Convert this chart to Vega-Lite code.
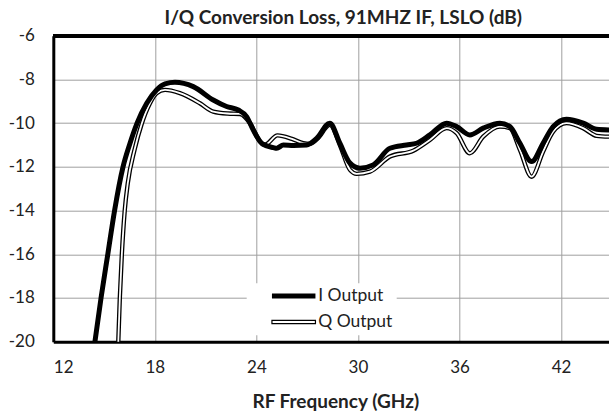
{
  "$schema": "https://vega.github.io/schema/vega-lite/v6.json",
  "width": 556,
  "height": 306,
  "autosize": {"type": "none"},
  "padding": {"left": 53.3, "top": 35.7, "right": 0, "bottom": 72.3},
  "background": "white",
  "config": {
    "view": {"stroke": null},
    "font": "Lato",
    "axis": {"labelFont": "Lato", "titleFont": "Lato", "labelColor": "#222222", "titleColor": "#222222"}
  },
  "title": {
    "text": "I/Q Conversion Loss, 91MHZ IF, LSLO (dB)",
    "font": "Lato", "fontSize": 19, "fontWeight": "bold", "color": "#222222",
    "anchor": "middle", "frame": "group", "dx": 12, "offset": -1
  },
  "data": {
    "values": [
      {"series": "I Output", "freq": 14.46, "loss": -20.0},
      {"series": "I Output", "freq": 14.82, "loss": -18.0},
      {"series": "I Output", "freq": 15.22, "loss": -16.0},
      {"series": "I Output", "freq": 15.62, "loss": -14.0},
      {"series": "I Output", "freq": 16.12, "loss": -12.0},
      {"series": "I Output", "freq": 16.5, "loss": -11.0},
      {"series": "I Output", "freq": 16.95, "loss": -10.0},
      {"series": "I Output", "freq": 17.52, "loss": -9.09},
      {"series": "I Output", "freq": 18.1, "loss": -8.48},
      {"series": "I Output", "freq": 18.6, "loss": -8.2},
      {"series": "I Output", "freq": 19.19, "loss": -8.13},
      {"series": "I Output", "freq": 20.27, "loss": -8.33},
      {"series": "I Output", "freq": 21.45, "loss": -8.94},
      {"series": "I Output", "freq": 22.24, "loss": -9.24},
      {"series": "I Output", "freq": 22.93, "loss": -9.4},
      {"series": "I Output", "freq": 23.42, "loss": -9.7},
      {"series": "I Output", "freq": 23.81, "loss": -10.31},
      {"series": "I Output", "freq": 24.35, "loss": -10.95},
      {"series": "I Output", "freq": 25.0, "loss": -11.12},
      {"series": "I Output", "freq": 25.2, "loss": -11.15},
      {"series": "I Output", "freq": 25.59, "loss": -11.0},
      {"series": "I Output", "freq": 26.2, "loss": -11.02},
      {"series": "I Output", "freq": 26.97, "loss": -11.0},
      {"series": "I Output", "freq": 27.56, "loss": -10.7},
      {"series": "I Output", "freq": 28.34, "loss": -10.0},
      {"series": "I Output", "freq": 28.93, "loss": -10.92},
      {"series": "I Output", "freq": 29.53, "loss": -11.83},
      {"series": "I Output", "freq": 30.12, "loss": -12.06},
      {"series": "I Output", "freq": 30.9, "loss": -11.91},
      {"series": "I Output", "freq": 31.89, "loss": -11.15},
      {"series": "I Output", "freq": 32.87, "loss": -11.0},
      {"series": "I Output", "freq": 33.46, "loss": -10.92},
      {"series": "I Output", "freq": 34.25, "loss": -10.54},
      {"series": "I Output", "freq": 35.24, "loss": -10.0},
      {"series": "I Output", "freq": 35.83, "loss": -10.16},
      {"series": "I Output", "freq": 36.61, "loss": -10.54},
      {"series": "I Output", "freq": 37.4, "loss": -10.23},
      {"series": "I Output", "freq": 38.39, "loss": -10.0},
      {"series": "I Output", "freq": 38.98, "loss": -10.16},
      {"series": "I Output", "freq": 39.57, "loss": -10.92},
      {"series": "I Output", "freq": 40.26, "loss": -11.76},
      {"series": "I Output", "freq": 40.94, "loss": -10.92},
      {"series": "I Output", "freq": 41.53, "loss": -10.16},
      {"series": "I Output", "freq": 42.32, "loss": -9.82},
      {"series": "I Output", "freq": 43.31, "loss": -10.0},
      {"series": "I Output", "freq": 44.1, "loss": -10.28},
      {"series": "I Output", "freq": 44.85, "loss": -10.31},
      {"series": "Q Output", "freq": 15.84, "loss": -20.0},
      {"series": "Q Output", "freq": 15.93, "loss": -18.0},
      {"series": "Q Output", "freq": 16.05, "loss": -16.0},
      {"series": "Q Output", "freq": 16.22, "loss": -14.0},
      {"series": "Q Output", "freq": 16.4, "loss": -12.75},
      {"series": "Q Output", "freq": 16.8, "loss": -11.22},
      {"series": "Q Output", "freq": 17.22, "loss": -10.04},
      {"series": "Q Output", "freq": 17.71, "loss": -9.09},
      {"series": "Q Output", "freq": 18.1, "loss": -8.63},
      {"series": "Q Output", "freq": 18.6, "loss": -8.48},
      {"series": "Q Output", "freq": 19.48, "loss": -8.63},
      {"series": "Q Output", "freq": 20.66, "loss": -9.09},
      {"series": "Q Output", "freq": 21.45, "loss": -9.47},
      {"series": "Q Output", "freq": 22.3, "loss": -9.56},
      {"series": "Q Output", "freq": 23.03, "loss": -9.58},
      {"series": "Q Output", "freq": 23.62, "loss": -10.0},
      {"series": "Q Output", "freq": 24.21, "loss": -10.84},
      {"series": "Q Output", "freq": 24.5, "loss": -10.99},
      {"series": "Q Output", "freq": 25.25, "loss": -10.56},
      {"series": "Q Output", "freq": 26.1, "loss": -10.72},
      {"series": "Q Output", "freq": 26.77, "loss": -10.92},
      {"series": "Q Output", "freq": 27.16, "loss": -10.95},
      {"series": "Q Output", "freq": 27.6, "loss": -10.72},
      {"series": "Q Output", "freq": 28.34, "loss": -10.08},
      {"series": "Q Output", "freq": 28.93, "loss": -11.0},
      {"series": "Q Output", "freq": 29.53, "loss": -12.14},
      {"series": "Q Output", "freq": 29.92, "loss": -12.32},
      {"series": "Q Output", "freq": 30.71, "loss": -12.22},
      {"series": "Q Output", "freq": 31.89, "loss": -11.53},
      {"series": "Q Output", "freq": 33.27, "loss": -11.26},
      {"series": "Q Output", "freq": 34.25, "loss": -10.77},
      {"series": "Q Output", "freq": 35.24, "loss": -10.23},
      {"series": "Q Output", "freq": 35.83, "loss": -10.46},
      {"series": "Q Output", "freq": 36.61, "loss": -11.38},
      {"series": "Q Output", "freq": 37.4, "loss": -10.62},
      {"series": "Q Output", "freq": 38.39, "loss": -10.16},
      {"series": "Q Output", "freq": 38.98, "loss": -10.23},
      {"series": "Q Output", "freq": 39.57, "loss": -11.22},
      {"series": "Q Output", "freq": 40.26, "loss": -12.45},
      {"series": "Q Output", "freq": 40.94, "loss": -11.3},
      {"series": "Q Output", "freq": 41.53, "loss": -10.39},
      {"series": "Q Output", "freq": 42.32, "loss": -10.0},
      {"series": "Q Output", "freq": 43.31, "loss": -10.23},
      {"series": "Q Output", "freq": 44.1, "loss": -10.58},
      {"series": "Q Output", "freq": 44.85, "loss": -10.62}
    ]
  },
  "layer": [
    {
      "transform": [{"filter": "datum.series === 'Q Output'"}],
      "mark": {"type": "line", "interpolate": "monotone", "strokeWidth": 4.4, "clip": true, "strokeCap": "round", "strokeJoin": "round"},
      "encoding": {
        "x": {
          "field": "freq", "type": "quantitative",
          "scale": {"domain": [12, 44.85], "nice": false, "zero": false},
          "axis": {
            "values": [12, 18, 24, 30, 36, 42],
            "title": "RF Frequency (GHz)",
            "titleFontSize": 19, "titleFontWeight": "bold", "titlePadding": 17, "titleX": 282,
            "labelFontSize": 17, "labelPadding": 18, "ticks": false,
            "domainColor": "black", "domainWidth": 3,
            "grid": true, "gridColor": "#a0a0a0", "gridWidth": 1
          }
        },
        "y": {
          "field": "loss", "type": "quantitative",
          "scale": {"domain": [-20, -6], "nice": false, "zero": false},
          "axis": {
            "values": [-20, -18, -16, -14, -12, -10, -8, -6],
            "labelExpr": "toString(datum.value)",
            "title": null,
            "labelFontSize": 17, "labelPadding": 19, "ticks": false,
            "domainColor": "black", "domainWidth": 3,
            "grid": true, "gridColor": "#a0a0a0", "gridWidth": 1
          }
        },
        "color": {
          "field": "series", "type": "nominal",
          "scale": {"domain": ["I Output", "Q Output"], "range": ["black", "black"]},
          "legend": {
            "orient": "none", "legendX": 193.4, "legendY": 247.6,
            "title": null, "fillColor": "white", "padding": 4,
            "symbolSize": 100, "labelOffset": 50, "rowPadding": 7,
            "labelFont": "Lato", "labelFontSize": 17.5, "labelColor": "#222222",
            "labelExpr": "datum.label + '\u00a0\u00a0\u00a0\u00a0\u00a0\u00a0'",
            "encode": {
              "symbols": {
                "update": {
                  "shape": {"signal": "datum.value === 'Q Output' ? 'M2.5,-0.32L11.2,-0.32L11.2,0.32L2.5,0.32Z' : 'M2.5,-0.5L11.2,-0.5L11.2,0.5L2.5,0.5Z'"},
                  "fill": {"signal": "datum.value === 'Q Output' ? 'white' : 'black'"},
                  "fillOpacity": {"value": 1},
                  "stroke": {"value": "black"},
                  "strokeOpacity": {"value": 1},
                  "strokeWidth": {"signal": "datum.value === 'Q Output' ? 1.2 : 0"}
                }
              }
            }
          }
        }
      }
    },
    {
      "transform": [{"filter": "datum.series === 'Q Output'"}],
      "mark": {"type": "line", "interpolate": "monotone", "strokeWidth": 1.8, "color": "white", "clip": true, "strokeCap": "round", "strokeJoin": "round"},
      "encoding": {
        "x": {"field": "freq", "type": "quantitative"},
        "y": {"field": "loss", "type": "quantitative"}
      }
    },
    {
      "transform": [{"filter": "datum.series === 'I Output'"}],
      "mark": {"type": "line", "interpolate": "monotone", "strokeWidth": 5, "clip": true, "strokeCap": "round", "strokeJoin": "round"},
      "encoding": {
        "x": {"field": "freq", "type": "quantitative"},
        "y": {"field": "loss", "type": "quantitative"},
        "color": {"field": "series", "type": "nominal"}
      }
    },
    {
      "mark": {"type": "rule", "color": "black", "strokeWidth": 3},
      "encoding": {"y": {"datum": -6}}
    }
  ]
}
